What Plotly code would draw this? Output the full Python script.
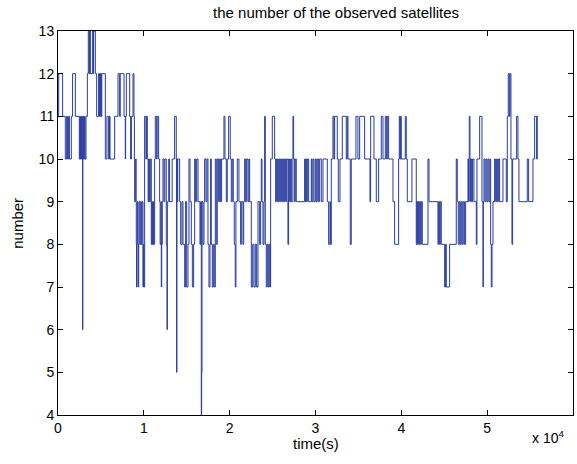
import plotly.graph_objects as go

# step transitions: time (s) at which the count changes, and the new count
time_s = [
    0, 80, 540, 850, 1010, 1100, 1240, 1330, 1550, 1700, 2020, 2480, 2560, 2600, 2680, 2720,
    2800, 2840, 2870, 2890, 2950, 3000, 3100, 3150, 3260, 3420, 3530, 3640, 3700, 3770, 4040,
    4100, 4150, 4350, 4505, 4740, 4800, 4850, 4920, 4980, 5050, 5100, 5515, 5700, 5900, 6000,
    6060, 6600, 6990, 7180, 7250, 7690, 7840, 7880, 7960, 8350, 8460, 8550, 8740, 8850, 8900,
    8930, 9050, 9100, 9124, 9150, 9200, 9250, 9318, 9350, 9400, 9450, 9550, 9650, 9700, 9800,
    9900, 9950, 10000, 10094, 10250, 10300, 10404, 10500, 10560, 10650, 10750, 10870, 10950,
    11000, 11100, 11150, 11258, 11336, 11500, 11550, 11724, 11840, 11900, 12000, 12034, 12080,
    12150, 12228, 12350, 12450, 12616, 12700, 12740, 12900, 13000, 13300, 13586, 13780, 13819,
    13850, 13896, 13950,
    14174, 14290, 14446, 14562, 14756, 14870, 14990, 15144, 15260, 15377, 15532, 15650, 15800,
    15920, 16036, 16153, 16308, 16540, 16620, 16696, 16735, 16774, 16890, 17010, 17084, 17240,
    17356, 17472, 17590, 17705, 17782, 17860, 17976, 18093, 18210, 18326, 18442, 18558, 18714,
    18830, 18946, 19063, 19334, 19450, 19606, 19722, 19878, 20072, 20188, 20304, 20420, 20537,
    20654, 20730, 20886, 21080,
    21164, 21280, 21358, 21552, 21630, 21746, 21862, 21980, 22134, 22250, 22328, 22522, 22680,
    22832, 22988, 23143, 23298, 23492, 23608, 23686, 23764, 23880, 23996, 24074, 24152, 24268,
    24384, 24500, 24617, 24734, 24772, 24966, 25238, 25354, 25470, 25586, 25704, 25820, 25936,
    26053, 26170, 26286, 26402, 26518, 26635, 26790, 26868, 26984, 27100, 27217, 27372, 27450,
    27566, 27644, 27760,
    28736, 28814, 28890, 28970, 29046, 29200, 29512, 29590, 29706, 29822, 29978, 30094, 30210,
    30366, 30482, 30676, 30870, 31374, 31530, 31685, 31762, 31840, 32034, 32150, 32228, 32538,
    32655, 32850, 33120, 33586, 33702, 33780, 34052, 34168, 34711, 34944,
    35144, 35726, 36347, 36425, 36812, 37084, 37356, 37666, 37860, 38132, 38288, 38364, 38520,
    39024, 39218, 39684, 39762, 39840, 39918, 39994, 40460, 40576, 40692, 41236, 41740, 41818,
    41895, 41973, 42050,
    42134, 42250, 42328, 42444, 43104, 43220, 44268, 44346, 44462, 44540, 44656, 45044, 45160,
    45238, 45626, 46402, 46518, 46635, 46751, 46868, 46984, 47100, 47217, 47372, 47488, 47760,
    47838, 47916, 47994, 48070, 48148, 48226, 48304, 48460, 48730, 48808,
    49124, 49396, 49512, 49550, 49628, 49745, 49860, 49978, 50094, 50210, 50327, 50404, 50482,
    50560, 50676, 50870, 50986, 51103, 51220, 51336, 51452, 51840, 52228, 52344, 52460, 52577,
    52655, 52771, 52888, 52965, 53430, 53586, 53702, 54672, 54828, 55334, 55526, 55760, 55836,
    55950,
]
n_sat = [
    11, 12, 11, 10, 11, 10, 11, 10, 11, 12, 11, 10, 11, 10, 11, 10,
    11, 10, 6, 10, 11, 10, 11, 10, 11, 12, 13, 12, 13, 12, 13,
    12, 13, 12, 11, 12, 11, 12, 11, 12, 11, 12, 10, 11, 10, 11,
    10, 11, 12, 11, 12, 11, 10, 11, 12, 11, 10, 11, 12, 11, 10,
    9, 10, 9, 8, 7, 8, 9, 8, 7, 8, 9, 8, 9, 8, 9,
    7, 8, 7, 11, 10, 11, 10, 9, 10, 9, 10, 8, 9,
    8, 9, 8, 10, 11, 10, 11, 10, 9, 8, 9, 7, 8,
    9, 10, 9, 10, 8, 6, 9, 10, 9, 10, 11, 10, 5,
    10, 9, 10,
    9, 8, 9, 8, 7, 9, 7, 8, 10, 9, 8, 7, 8,
    10, 9, 10, 9, 8, 9, 4, 5, 9, 8, 9, 10, 9,
    10, 8, 7, 8, 10, 8, 7, 8, 7, 10, 8, 10, 9,
    10, 9, 10, 11, 10, 9, 10, 11, 10, 9, 10, 9, 8,
    7, 9, 10, 9,
    9, 8, 9, 8, 9, 10, 9, 10, 9, 10, 9, 7, 8,
    7, 8, 7, 9, 8, 9, 10, 9, 8, 9, 11, 8, 7,
    8, 7, 8, 7, 10, 11, 10, 9, 10, 9, 10, 9, 10,
    9, 10, 9, 10, 9, 10, 8, 10, 9, 10, 9, 11, 10,
    9, 10, 9,
    10, 9, 10, 9, 10, 9, 10, 9, 10, 9, 10, 9, 10,
    9, 10, 9, 10, 9, 8, 9, 8, 10, 11, 10, 11, 10,
    9, 10, 11, 10, 11, 10, 8, 10, 11, 10,
    11, 10, 9, 11, 10, 9, 10, 11, 10, 11, 10, 11, 10,
    9, 8, 10, 11, 10, 11, 10, 11, 10, 9, 10, 8, 9,
    8, 9, 8,
    9, 8, 9, 8, 10, 9, 8, 9, 8, 9, 8, 7, 8,
    7, 8, 10, 9, 8, 9, 8, 9, 8, 9, 8, 9, 10,
    9, 11, 10, 9, 10, 9, 10, 9, 8, 10,
    11, 9, 7, 9, 10, 9, 10, 9, 10, 9, 10, 8, 7,
    8, 9, 10, 9, 10, 9, 10, 9, 10, 9, 11, 12, 11,
    12, 10, 8, 10, 11, 10, 9, 10, 9, 10, 11, 10, 11,
    11,
]

x_tick_vals = [0, 10000, 20000, 30000, 40000, 50000, 60000]
x_tick_text = ["0", "1", "2", "3", "4", "5", "6"]
y_tick_vals = [4, 5, 6, 7, 8, 9, 10, 11, 12, 13]

FONT = "Liberation Sans, Arial, sans-serif"
FS = 15

fig = go.Figure()
fig.add_trace(go.Scatter(
    x=time_s, y=n_sat, mode="lines", line_shape="hv",
    line=dict(color="rgb(40,60,160)", width=1),
    showlegend=False, hoverinfo="skip",
))

axis_common = dict(
    showline=True, linecolor="black", linewidth=1, mirror="ticks",
    ticks="inside", ticklen=5, tickcolor="black", tickwidth=1,
    showgrid=False, zeroline=False,
    tickfont=dict(family=FONT, size=14, color="black"),
)

fig.update_layout(
    width=577, height=464,
    margin=dict(l=58, r=4, t=31, b=49, pad=0, autoexpand=False),
    paper_bgcolor="white", plot_bgcolor="white",
    font=dict(family=FONT, size=FS, color="black"),
    xaxis=dict(range=[0, 60000], tickvals=x_tick_vals, ticktext=x_tick_text, **axis_common),
    yaxis=dict(range=[4, 13], tickvals=y_tick_vals, **axis_common),
    title=dict(text="the number of the observed satellites", x=0.54, xref="paper",
               xanchor="center",
               y=1 - 13 / 464, yref="container", yanchor="middle",
               font=dict(family=FONT, size=FS, color="black")),
    annotations=[
        dict(text="time(s)", xref="paper", yref="paper", x=0.5, y=-0.075,
             xanchor="center", yanchor="middle", showarrow=False,
             font=dict(family=FONT, size=FS, color="black")),
        dict(text="number", xref="paper", yref="paper", x=-0.08, y=0.5,
             xanchor="center", yanchor="middle", textangle=-90, showarrow=False,
             font=dict(family=FONT, size=FS, color="black")),
        dict(text="x 10<sup>4</sup>", xref="paper", yref="paper", x=0.986, y=-0.058,
             xanchor="right", yanchor="middle", showarrow=False,
             font=dict(family=FONT, size=14, color="black")),
    ],
)

fig.write_html("out.html", config={"displayModeBar": False},
               post_script="document.body.style.margin='0';")
